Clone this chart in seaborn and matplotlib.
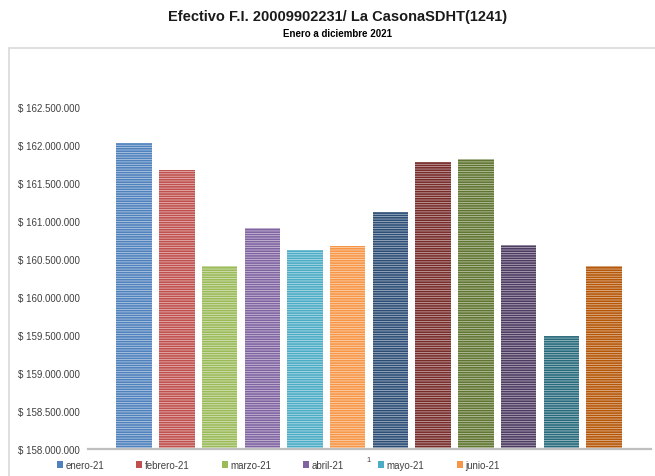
import matplotlib
matplotlib.use("Agg")
import matplotlib.pyplot as plt
import matplotlib.ticker as mticker
from matplotlib.patches import Patch
from matplotlib.lines import Line2D
import seaborn as sns
import pandas as pd

# Saldo mensual del fondo (pesos)
meses = ["enero-21", "febrero-21", "marzo-21", "abril-21", "mayo-21", "junio-21",
         "julio-21", "agosto-21", "septiembre-21", "octubre-21", "noviembre-21", "diciembre-21"]
saldos = [162020000, 161670000, 160410000, 160905000, 160615000, 160670000,
          161115000, 161775000, 161815000, 160680000, 159490000, 160405000]
colores = ["#4F81BD", "#C0504D", "#9BBB59", "#8064A2", "#4BACC6", "#F79646",
           "#2C4D75", "#772C2A", "#5F7530", "#4D3B62", "#276A7C", "#B65708"]
meses_leyenda = meses[:6]
titulo = "Efectivo F.I. 20009902231/ La CasonaSDHT(1241)"
subtitulo = "Enero a diciembre 2021"

sns.set_theme(style="white")
plt.rcParams["font.family"] = ["Liberation Sans Narrow", "Liberation Sans", "DejaVu Sans"]
plt.rcParams["hatch.linewidth"] = 1.2

df = pd.DataFrame({"mes": meses, "saldo": saldos})

fig = plt.figure(figsize=(6.55, 4.77), dpi=100)
ax = fig.add_axes([0.1344, 0.0566, 0.8595, 0.7966])

sns.barplot(data=df, x="mes", y="saldo", hue="mes", palette=colores,
            order=meses, hue_order=meses, width=0.83, legend=False, ax=ax)


def aclarar(c, f):
    r, g, b = matplotlib.colors.to_rgb(c)
    return (r + (1 - r) * f, g + (1 - g) * f, b + (1 - b) * f)


for barra, col in zip(ax.patches, colores):
    barra.set_facecolor(aclarar(col, 0.65))
    barra.set_edgecolor(col)
    barra.set_linewidth(0)
    barra.set_hatch("-------")

ax.set_ylim(158000000, 163000000)
ax.set_xlim(-1.08, 12.1)
ax.yaxis.set_major_locator(mticker.MultipleLocator(500000))
ax.yaxis.set_major_formatter(mticker.FuncFormatter(
    lambda v, p: "$ " + f"{v:,.0f}".replace(",", ".") if v < 162900000 else ""))
ax.tick_params(axis="y", labelsize=7, labelcolor="#404040", length=0, pad=6)
ax.tick_params(axis="x", length=0, labelbottom=False)
ax.set_xlabel("")
ax.set_ylabel("")
for lado in ["top", "right", "left"]:
    ax.spines[lado].set_visible(False)
ax.spines["bottom"].set_color("#BFBFBF")
ax.spines["bottom"].set_linewidth(1.6)

# Marco del área del gráfico
fig.add_artist(Line2D([9 / 655, 1.0], [1 - 49 / 477, 1 - 49 / 477],
                      transform=fig.transFigure, color="#D9D9D9", lw=1.2))
fig.add_artist(Line2D([9 / 655, 9 / 655], [0, 1 - 49 / 477],
                      transform=fig.transFigure, color="#D9D9D9", lw=1.2))

fig.text(0.515, 1 - 17 / 477, titulo, ha="center", va="center",
         fontsize=10.5, fontweight="bold", color="#1a1a1a")
fig.text(0.515, 1 - 34 / 477, subtitulo, ha="center", va="center",
         fontsize=7, fontweight="bold", color="#000000")

# Leyenda: una entrada por columna, con separación fija
x_leyenda = [57, 136, 222, 303, 378, 457]
for nombre, col, xl in zip(meses_leyenda, colores, x_leyenda):
    leg = fig.legend([Patch(facecolor=col, edgecolor="none")], [nombre],
                     loc="center left", bbox_to_anchor=(xl / 655, 1 - 466 / 477),
                     frameon=False, fontsize=7, handlelength=0.6, handleheight=0.6,
                     handletextpad=0.3, borderpad=0, borderaxespad=0)
    for t in leg.get_texts():
        t.set_color("#404040")

fig.text(369 / 655, 1 - 461 / 477, "1", ha="center", va="center",
         fontsize=5.5, color="#404040")

fig.savefig("out.png", dpi=100)
